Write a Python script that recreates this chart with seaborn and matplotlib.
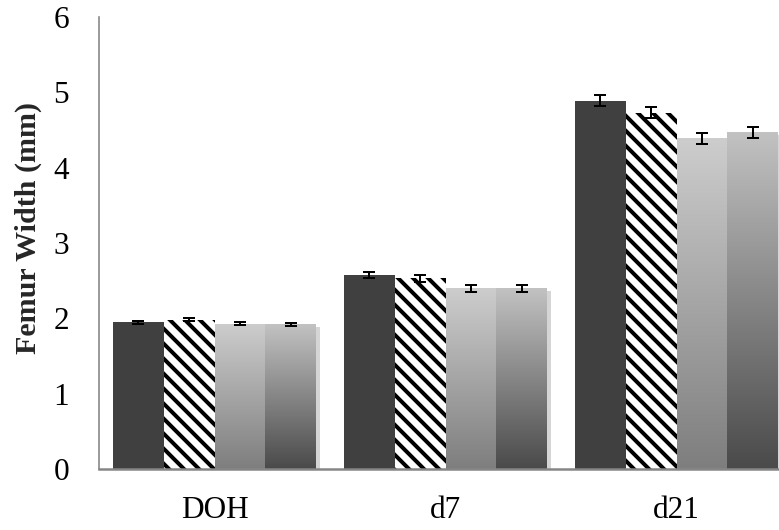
import numpy as np
import pandas as pd
import matplotlib
matplotlib.use("Agg")
import matplotlib.pyplot as plt
import seaborn as sns
from matplotlib.colors import LinearSegmentedColormap
import matplotlib.patheffects as pe

# ---- data ----
days = ["DOH", "d7", "d21"]
groups = ["G1", "G2", "G3", "G4"]
g1_vals = [1.95, 2.57, 4.89]
g2_vals = [1.98, 2.53, 4.73]
g3_vals = [1.93, 2.40, 4.39]
g4_vals = [1.92, 2.40, 4.47]
g1_err = [0.02, 0.04, 0.07]
g2_err = [0.02, 0.05, 0.07]
g3_err = [0.02, 0.045, 0.075]
g4_err = [0.02, 0.045, 0.075]
yticks = [0, 1, 2, 3, 4, 5, 6]

vals = [g1_vals, g2_vals, g3_vals, g4_vals]
errs = [g1_err, g2_err, g3_err, g4_err]
df = pd.DataFrame({
    "day": [d for g in groups for d in days],
    "group": [g for g in groups for d in days],
    "width": [v for vs in vals for v in vs],
})

sns.set_style("white")
plt.rcParams["font.family"] = ["Liberation Serif", "DejaVu Serif"]
plt.rcParams["hatch.linewidth"] = 3.2

DPI = 90
fig = plt.figure(figsize=(779 / DPI, 530 / DPI), dpi=DPI)
ax = fig.add_axes([99 / 779, 61 / 530, 693 / 779, 452 / 530])

palette = {"G1": "#404040", "G2": "#ffffff", "G3": "#b0b0b0", "G4": "#909090"}
sns.barplot(data=df, x="day", y="width", hue="group", order=days,
            hue_order=groups, palette=palette, width=0.88, gap=0,
            errorbar=None, saturation=1, linewidth=0, ax=ax, legend=False)

ax.set_xlim(-0.5, 2.5)
ax.set_ylim(0, 6)

cmaps = {
    2: LinearSegmentedColormap.from_list("g3", ["#7e7e7e", "#cdcdcd"]),
    3: LinearSegmentedColormap.from_list("g4", ["#4a4a4a", "#c2c2c2"]),
}
grad = np.linspace(0, 1, 256).reshape(-1, 1)

bar_conts = list(ax.containers)
for i, cont in enumerate(bar_conts):
    for j, bar in enumerate(cont.patches):
        x0 = bar.get_x()
        w = bar.get_width()
        h = bar.get_height()
        if i == 1:
            bar.set_facecolor("white")
            bar.set_edgecolor("black")
            bar.set_hatch("\\\\")
            bar.set_linewidth(0)
        if i in cmaps:
            if i == 3:
                bar.set_path_effects([pe.SimplePatchShadow(offset=(3, -2),
                                                           shadow_rgbFace="#888888",
                                                           alpha=0.35),
                                      pe.Normal()])
            im = ax.imshow(grad, cmap=cmaps[i], origin="lower", aspect="auto",
                           extent=(x0, x0 + w, 0, h), zorder=bar.get_zorder() + 0.1,
                           interpolation="bilinear")
            im.set_clip_path(bar)
        ax.errorbar(x0 + w / 2, h, yerr=errs[i][j], fmt="none", ecolor="black",
                    elinewidth=1.6, capsize=4.8, capthick=1.6, zorder=5)

ax.set_xlim(-0.5, 2.5)
ax.set_ylim(0, 6)
ax.set_yticks(yticks)
ax.set_yticklabels([str(t) for t in yticks])
ax.tick_params(axis="both", length=0, labelsize=25, colors="black")
ax.tick_params(axis="y", pad=24)
ax.tick_params(axis="x", pad=22)
ax.set_xlabel("")
ax.set_ylabel("Femur Width (mm)", fontsize=24, fontweight="bold")
ax.yaxis.set_label_coords(-0.082, 0.533)

for s in ["top", "right"]:
    ax.spines[s].set_visible(False)
ax.spines["left"].set_color("#868686")
ax.spines["left"].set_linewidth(1.3)
ax.spines["bottom"].set_color("#868686")
ax.spines["bottom"].set_linewidth(2.0)
ax.spines["bottom"].set_zorder(6)

fig.savefig("out.png", dpi=DPI)
